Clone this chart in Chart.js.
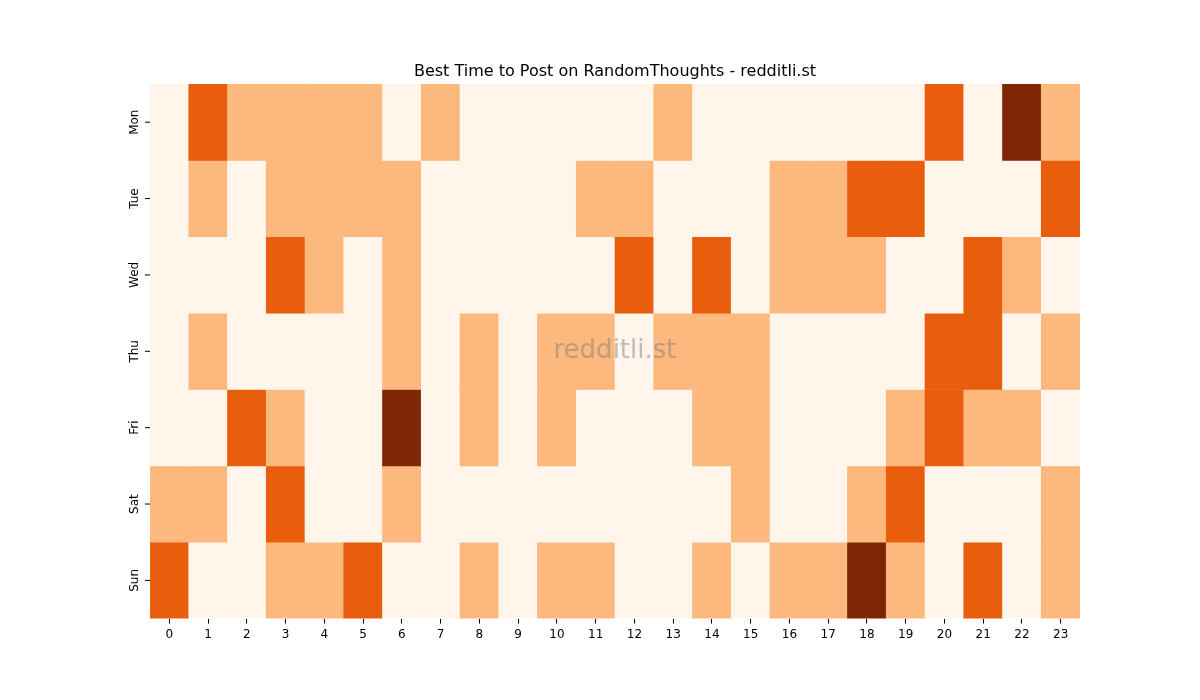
<!DOCTYPE html>
<html><head><meta charset="utf-8">
<script src="https://cdn.jsdelivr.net/npm/chart.js@4"></script>
<style>body{margin:0;background:#fff}</style></head>
<body><canvas id="c" width="1200" height="700"></canvas>
<script>
const hours = ['0','1','2','3','4','5','6','7','8','9','10','11','12','13','14','15','16','17','18','19','20','21','22','23'];
const days = ['Mon','Tue','Wed','Thu','Fri','Sat','Sun'];
const mon = [0,2,1,1,1,1,0,1,0,0,0,0,0,1,0,0,0,0,0,0,2,0,3,1];
const tue = [0,1,0,1,1,1,1,0,0,0,0,1,1,0,0,0,1,1,2,2,0,0,0,2];
const wed = [0,0,0,2,1,0,1,0,0,0,0,0,2,0,2,0,1,1,1,0,0,2,1,0];
const thu = [0,1,0,0,0,0,1,0,1,0,1,1,0,1,1,1,0,0,0,0,2,2,0,1];
const fri = [0,0,2,1,0,0,3,0,1,0,1,0,0,0,1,1,0,0,0,1,2,1,1,0];
const sat = [1,1,0,2,0,0,1,0,0,0,0,0,0,0,0,1,0,0,1,2,0,0,0,1];
const sun = [2,0,0,1,1,2,0,0,1,0,1,1,0,0,1,0,1,1,3,1,0,2,0,1];
const rows = [mon,tue,wed,thu,fri,sat,sun];
const palette = ['#fff5eb','#fdb97d','#e95e0d','#7f2704'];

const datasets = rows.map((r,i)=>({
  label: days[i],
  data: r.map(()=>1),
  backgroundColor: r.map(v=>palette[v]),
  borderWidth: 0,
  barPercentage: 1, categoryPercentage: 1,
  stack: 's'
}));

const deco = {
  id:'deco',
  afterDraw(chart){
    const {ctx, chartArea:a, scales:{y}} = chart;
    ctx.save();
    ctx.fillStyle='#000';
    ctx.font='16px "DejaVu Sans"';
    ctx.textAlign='center'; ctx.textBaseline='bottom';
    ctx.fillText('Best Time to Post on RandomThoughts - redditli.st',(a.left+a.right)/2,a.top-4);
    ctx.font='12px "DejaVu Sans"';
    ctx.strokeStyle='#000'; ctx.lineWidth=1;
    days.forEach((d,i)=>{
      const py = y.getPixelForValue(i+0.5);
      ctx.beginPath(); ctx.moveTo(a.left,py); ctx.lineTo(a.left-5,py); ctx.stroke();
      ctx.save(); ctx.translate(a.left-9,py); ctx.rotate(-Math.PI/2);
      ctx.textAlign='center'; ctx.textBaseline='bottom'; ctx.fillText(d,0,0); ctx.restore();
    });
    ctx.font='26px "DejaVu Sans"';
    ctx.fillStyle='rgba(128,128,128,0.5)';
    ctx.textAlign='center'; ctx.textBaseline='middle';
    ctx.fillText('redditli.st',(a.left+a.right)/2,(a.top+a.bottom)/2);
    ctx.restore();
  }
};

new Chart(document.getElementById('c'),{
  type:'bar',
  data:{labels:hours, datasets},
  options:{
    responsive:false, animation:false,
    layout:{padding:{left:150,right:120,top:84,bottom:54}},
    plugins:{legend:{display:false},tooltip:{enabled:false},title:{display:false}},
    scales:{
      x:{stacked:true, grid:{drawOnChartArea:false,drawTicks:true,tickLength:5,offset:false,color:'#000'},
         border:{display:false},
         ticks:{color:'#000',font:{family:'DejaVu Sans',size:12},padding:4,maxRotation:0}},
      y:{stacked:true, reverse:true, min:0, max:7, display:false}
    }
  },
  plugins:[deco]
});
</script></body></html>
